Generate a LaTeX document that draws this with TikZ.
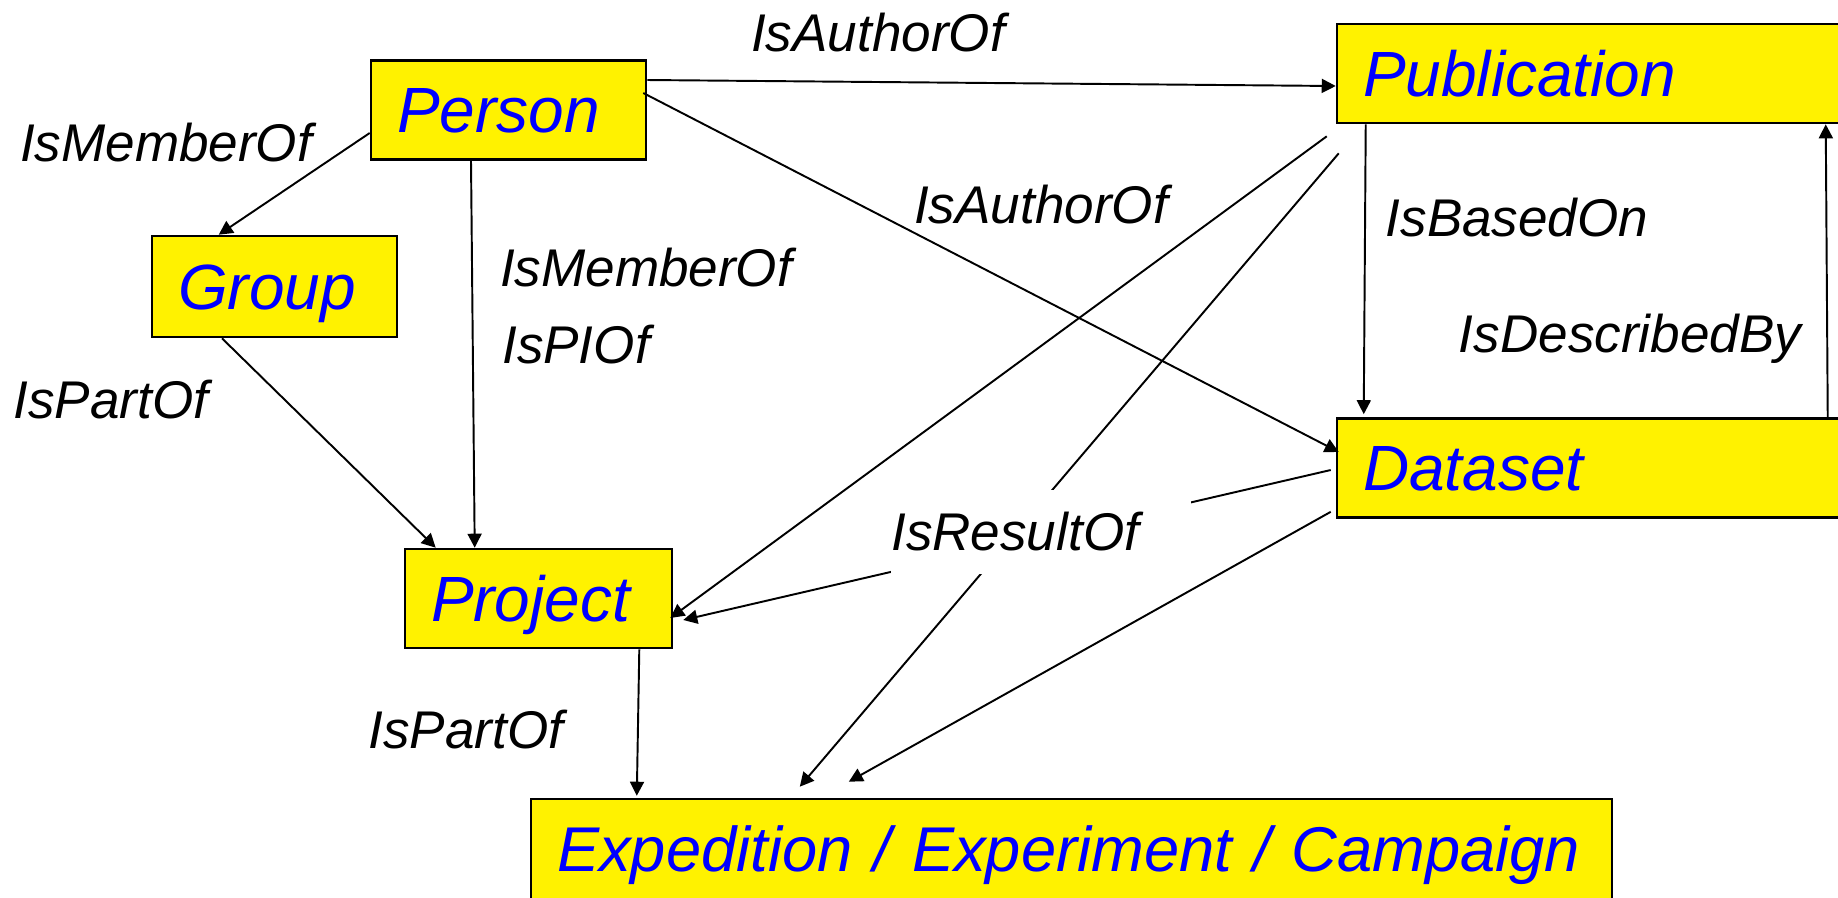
\documentclass[tikz,border=0pt]{standalone}
\usepackage{fontspec}
\setmainfont{Liberation Sans}
\usetikzlibrary{arrows.meta}

\begin{document}
\begin{tikzpicture}[x=0.02cm,y=-0.02cm]
        \tikzstyle{entity} = [draw=black, line width=1.5pt, fill=yellow, text=blue, inner xsep=0.52cm, inner ysep=0pt, text height=26pt, text depth=0pt, font=\fontsize{36.4}{40}\selectfont\itshape, minimum height=1.98cm]
        \tikzstyle{rel} = [inner sep=0pt, text height=21.6pt, text depth=0pt, font=\fontsize{30.2}{34}\selectfont\itshape]
        \tikzstyle{link} = [line width=1.1pt, -{Triangle[length=0.28cm,width=0.28cm]}]

        \useasboundingbox (0,0) rectangle (1838,897);

        % the boxes
        \node[entity, text width=4.46cm] (person) at (508.5,110) {Person};
        \node[entity, text width=3.86cm, minimum height=2.02cm] (group) at (274.5,286.5) {Group};
        \node[entity, text width=4.30cm] (project) at (538.5,598.5) {Project};
        \node[entity, text width=9.12cm] (publication) at (1591,73.5) {Publication};
        \node[entity, text width=9.12cm] (dataset) at (1591,468) {Dataset};
        \node[entity, text width=20.58cm, minimum height=2.0cm, font=\fontsize{36}{40}\selectfont\itshape] (expedition) at (1071.5,849) {\mbox{Expedition / Experiment / Campaign}};

        % the relations
        \draw[link] ([shift={(0,-30)}]person.east) -- ([shift={(0,12.5)}]publication.west);
        \draw[link] ([shift={(-4,-17)}]person.east) -- ([shift={(3,-16)}]dataset.west);
        \draw[link] ([shift={(0,23)}]person.west) -- ([shift={(68,0)}]group.north west);
        \draw[link] ([shift={(-37.5,0)}]person.south) -- ([shift={(71,0)}]project.north west);
        \draw[link] ([shift={(-52.5,0)}]group.south) -- ([shift={(32,0)}]project.north west);
        \draw[link] ([shift={(-9,12)}]publication.south west) -- ([shift={(-3,19.5)}]project.east);
        \draw[link] ([shift={(-5,2)}]dataset.west) -- ([shift={(10,21.5)}]project.east);
        \draw[link] ([shift={(3,29)}]publication.south west) -- ([shift={(270,-11)}]expedition.north west);
        \draw[link] ([shift={(-5,-7)}]dataset.south west) -- ([shift={(319,-16)}]expedition.north west);
        \draw[link] ([shift={(-34,0)}]project.south east) -- ([shift={(107,-2)}]expedition.north west);
        \draw[link] ([shift={(30,0)}]publication.south west) -- ([shift={(28,-3)}]dataset.north west);
        \draw[link] ([shift={(492,0)}]dataset.north west) -- ([shift={(490,0)}]publication.south west);

        % the labels
        \node[rel] (authorA) at (878,33) {IsAuthorOf};
        \node[rel] (memberA) at (166,143) {IsMemberOf};
        \node[rel] (authorB) at (1041,205) {IsAuthorOf};
        \node[rel] (based) at (1517,218) {IsBasedOn};
        \node[rel] (memberB) at (646,268) {IsMemberOf};
        \node[rel] (pi) at (576,345) {IsPIOf};
        \node[rel] (described) at (1630,334) {IsDescribedBy};
        \node[rel] (partA) at (111,400) {IsPartOf};
        \node[rel, fill=white, anchor=west, text width=6cm, minimum height=1.68cm] (result) at (891,532) {IsResultOf};
        \node[rel] (partB) at (466,730) {IsPartOf};

\end{tikzpicture}
\end{document}
